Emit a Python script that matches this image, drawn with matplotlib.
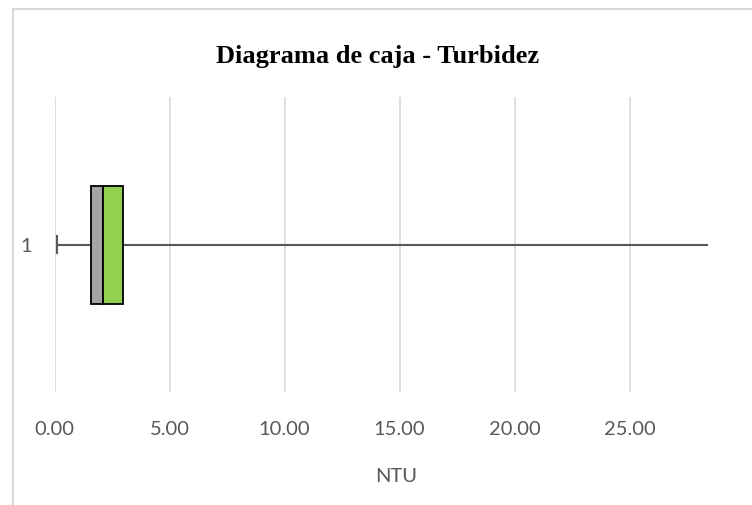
import matplotlib
matplotlib.use('Agg')
import matplotlib.pyplot as plt
from matplotlib.lines import Line2D

# box-plot summary (NTU)
whisker_low = 0.12
q1 = 1.57
median = 2.10
q3 = 2.99
whisker_high = 28.38
category = [1]
xtick_values = [0, 5, 10, 15, 20, 25]
xtick_labels = ['0.00', '5.00', '10.00', '15.00', '20.00', '25.00']

fig = plt.figure(figsize=(7.52, 5.06), dpi=100)
ax = fig.add_axes([54.5/752, 113/506, (737.6-54.5)/752, 295/506])

y = category[0]
# whisker line and left cap
ax.plot([whisker_low, q1], [y, y], color='#595959', lw=1.5, zorder=1)
ax.plot([q3, whisker_high], [y, y], color='#595959', lw=1.5, zorder=1)
ax.plot([whisker_low, whisker_low], [y-0.03, y+0.03], color='#595959', lw=1.5, zorder=1)
# two halves of the box
ax.barh(category, [median-q1], left=[q1], height=0.4, color='#a5a5a5', edgecolor='black', lw=1.3, zorder=3)
ax.barh(category, [q3-median], left=[median], height=0.4, color='#92d050', edgecolor='black', lw=1.3, zorder=3)

ax.set_xlim(0, 29.7)
ax.set_ylim(0.5, 1.5)
ax.set_xticks(xtick_values)
ax.set_xticklabels(xtick_labels)
ax.set_yticks(category)
ax.set_yticklabels(['1'])
ax.grid(axis='x', color='#d9d9d9', lw=1.2)
ax.set_axisbelow(True)
for s in ax.spines.values():
    s.set_visible(False)
ax.tick_params(axis='both', length=0, labelsize=14.5, labelcolor='#595959')
ax.tick_params(axis='x', pad=20)
ax.tick_params(axis='y', pad=16)
for lab in ax.get_xticklabels() + ax.get_yticklabels():
    lab.set_family('Lato')
ax.set_xlabel('NTU', fontsize=14.5, color='#595959', family='Lato', labelpad=22)

fig.text(378/752, 1 - 56/506, 'Diagrama de caja - Turbidez', ha='center', va='center',
         fontsize=19, fontweight='bold', family='Liberation Serif')

# chart outer border (left and top edges visible)
fig.add_artist(Line2D([12.5/752, 12.5/752], [0, 1 - 10/506], color='#d9d9d9', lw=1.5))
fig.add_artist(Line2D([12.5/752, 1], [1 - 10/506, 1 - 10/506], color='#d9d9d9', lw=1.5))

fig.savefig('out.png', dpi=100)
